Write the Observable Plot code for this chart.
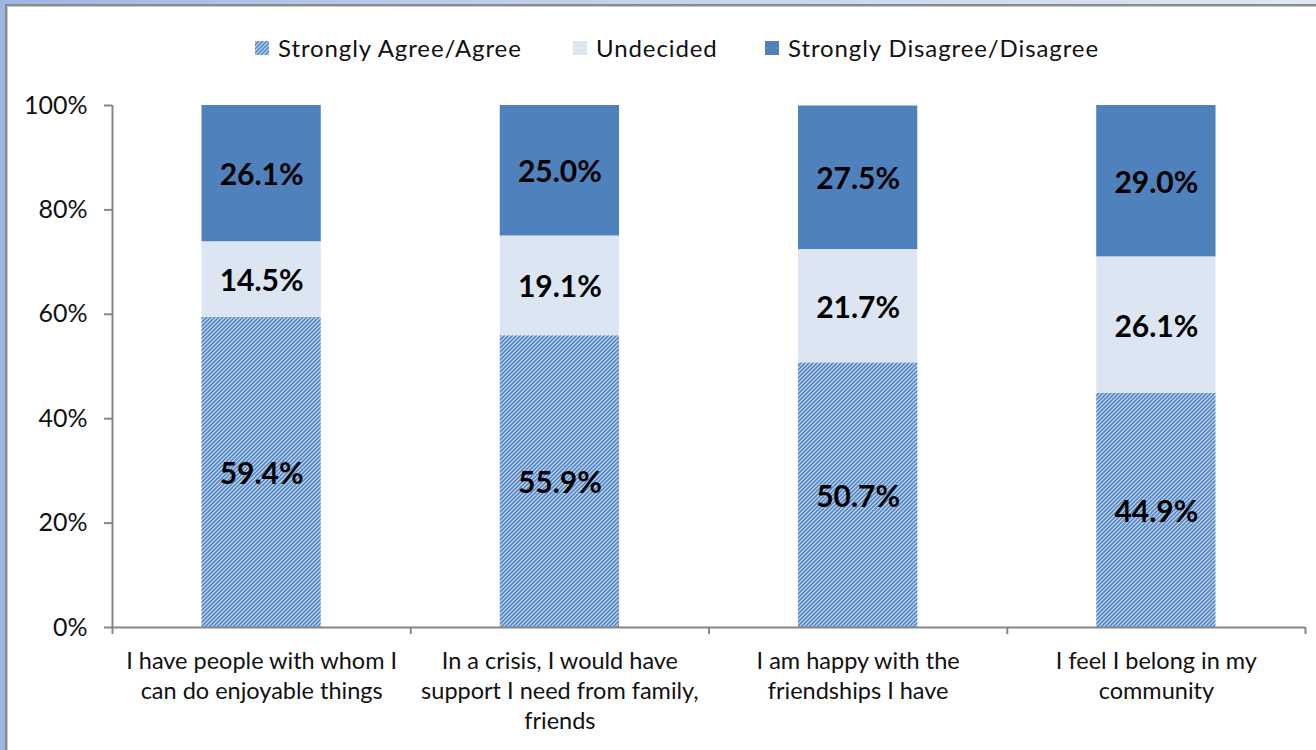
<!DOCTYPE html>
<html>
<head>
<meta charset="utf-8">
<script src="https://cdn.jsdelivr.net/npm/d3@7"></script>
<script src="https://cdn.jsdelivr.net/npm/@observablehq/plot@0.6"></script>
<style>
  html, body { margin: 0; padding: 0; }
  body {
    width: 1316px; height: 750px; overflow: hidden; position: relative;
    background: linear-gradient(to right, #9db6e2 0%, #b9cbeb 30%, #dfe5f3 100%);
    font-family: Lato, "Open Sans", sans-serif;
  }
  #frame {
    position: absolute; left: 5px; top: 4px; right: 0; bottom: 0;
    background: #fff; border-left: 2px solid #8a8a8a; border-top: 2px solid #8a8a8a;
    box-shadow: inset 1px 1px 0 #c8c8c8;
  }
  #legend { position: absolute; left: 0; top: 0; width: 1316px; height: 88px; }
  .item { position: absolute; top: 33px; display: flex; align-items: center; font-size: 24px; color: #111; letter-spacing: 0.9px; }
  .item svg { margin-right: 9px; }
  #chart { position: absolute; left: 0; top: 88px; }
</style>
</head>
<body>
<div id="frame"></div>
<svg width="0" height="0" style="position:absolute">
  <defs>
    <pattern id="hatch" patternUnits="userSpaceOnUse" width="4" height="4">
      <rect width="4" height="4" fill="#cadcf2"></rect>
      <path d="M-1,1 l2,-2 M0,4 l4,-4 M3,5 l2,-2" stroke="#5386c4" stroke-width="1.6"></path>
    </pattern>
  </defs>
</svg>
<div id="legend"></div>
<div id="chart"></div>
<script>
// ---- data ----
const categories = [
  "I have people with whom I\ncan do enjoyable things",
  "In a crisis, I would have\nsupport I need from family,\nfriends",
  "I am happy with the\nfriendships I have",
  "I feel I belong in my\ncommunity"
];
const seriesNames = ["Strongly Agree/Agree", "Undecided", "Strongly Disagree/Disagree"];
const agree     = [59.4, 55.9, 50.7, 44.9];
const undecided = [14.5, 19.1, 21.7, 26.1];
const disagree  = [26.1, 25.0, 27.5, 29.0];
const yTicks = [0, 20, 40, 60, 80, 100];
const seriesFills = ["url(#hatch)", "#dce6f2", "#4f81bd"];

// ---- table ----
const seriesValues = [agree, undecided, disagree];
const data = [];
categories.forEach((c, i) => {
  seriesNames.forEach((s, k) => data.push({i, category: c, series: s, value: seriesValues[k][i]}));
});

// ---- legend ----
const legendLeft = [255, 573, 765];
const legend = document.getElementById("legend");
seriesNames.forEach((s, k) => {
  const div = document.createElement("div");
  div.className = "item";
  div.style.left = legendLeft[k] + "px";
  div.innerHTML = `<svg width="14" height="14"><rect width="14" height="14" fill="${seriesFills[k]}"></rect></svg><span>${s}</span>`;
  legend.appendChild(div);
});

// ---- chart ----
const axisColor = "#868686";
const W = 1316, mL = 112, mR = 11;
const step = (W - mL - mR) / categories.length;
const inset = step * 0.3;

const chart = Plot.plot({
  width: W,
  height: 662,
  marginLeft: mL,
  marginRight: mR,
  marginTop: 17,
  marginBottom: 123,
  style: {background: "transparent", fontFamily: "Lato, 'Open Sans', sans-serif", color: "#111", overflow: "visible"},
  x: {domain: [0, categories.length], axis: null},
  y: {domain: [0, 100], axis: null},
  color: {domain: seriesNames, range: seriesFills},
  marks: [
    Plot.rectY(data, Plot.stackY({
      x1: d => d.i, x2: d => d.i + 1, y: "value", z: "series", fill: "series",
      insetLeft: inset, insetRight: inset
    })),
    Plot.text(data, Plot.stackY({
      x: d => d.i + 0.5, y: "value", z: "series",
      text: d => d.value.toFixed(1) + "%",
      fontSize: 30, fontWeight: "bold", fill: "#000", dy: 2
    })),
    // axis lines
    Plot.ruleY([0], {stroke: axisColor, strokeWidth: 2}),
    Plot.ruleX([0], {stroke: axisColor, strokeWidth: 2}),
    // y axis ticks & labels
    Plot.axisY({ticks: yTicks, tickFormat: d => d + "%", tickSize: 8, tickPadding: 17, label: null,
      stroke: axisColor, strokeWidth: 2, fontSize: 25, fill: "#111"}),
    // x boundary ticks
    Plot.axisX({ticks: d3.range(categories.length + 1), tickFormat: () => "", tickSize: 7, label: null,
      stroke: axisColor, strokeWidth: 2}),
    // x category labels
    Plot.axisX({ticks: categories.map((c, i) => i + 0.5), tickFormat: v => categories[Math.floor(v)],
      tickSize: 0, tickPadding: 20, fontSize: 23.5, lineHeight: 1.28, fill: "#111", label: null})
  ]
});
document.getElementById("chart").appendChild(chart);
</script>
</body>
</html>
